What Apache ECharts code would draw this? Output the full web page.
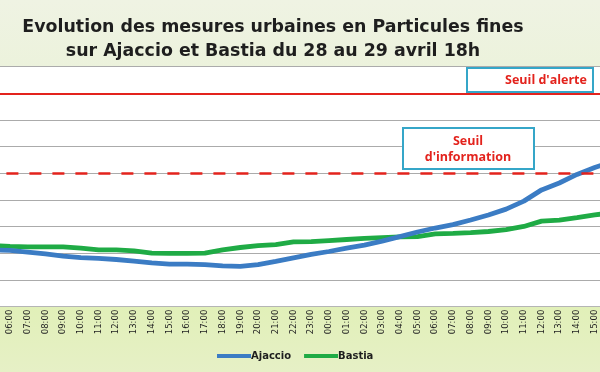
<!DOCTYPE html>
<html>
<head>
<meta charset="utf-8">
<script src="https://cdn.jsdelivr.net/npm/echarts@6/dist/echarts.min.js"></script>
<style>html,body{margin:0;padding:0;}#c{width:600px;height:372px;}</style>
</head>
<body>
<div id="c"></div>
<script>
// Hours (first and last are just outside the visible crop of the original picture)
const categories = ['05:00','06:00','07:00','08:00','09:00','10:00','11:00','12:00','13:00','14:00','15:00','16:00','17:00','18:00','19:00','20:00','21:00','22:00','23:00','00:00','01:00','02:00','03:00','04:00','05:00','06:00','07:00','08:00','09:00','10:00','11:00','12:00','13:00','14:00','15:00','16:00'];
const ajaccio = [21.3,21.1,20.5,19.8,19.0,18.4,18.1,17.7,17.1,16.4,16.0,16.0,15.8,15.3,15.1,15.8,17.0,18.3,19.6,20.7,22.0,23.1,24.6,26.3,28.0,29.5,30.8,32.5,34.4,36.6,39.6,43.8,46.4,49.6,52.2,54.5];
const bastia  = [23.0,22.6,22.4,22.4,22.4,22.0,21.3,21.3,20.9,20.1,20.0,20.0,20.1,21.3,22.2,22.9,23.3,24.3,24.4,24.8,25.2,25.6,25.9,26.2,26.3,27.3,27.5,27.8,28.2,28.9,30.1,32.1,32.5,33.4,34.4,35.3];
const seriesNames = ['Ajaccio','Bastia'];
const seuilAlerte = 80;
const seuilInformation = 50;
const yMin = 0, yMax = 90, yStep = 10;
const titleLines = ['Evolution des mesures urbaines en Particules fines','sur Ajaccio et Bastia du 28 au 29 avril 18h'];
const labelAlerte = "Seuil d'alerte";
const labelInfo = ['Seuil',"d'information"];

const chart = echarts.init(document.getElementById('c'), null, {renderer:'canvas', devicePixelRatio:1});
const red = '#e3231d';
const teal = '#35a6c8';
chart.setOption({
  animation: false,
  backgroundColor: {type:'linear', x:0, y:0, x2:0, y2:1, colorStops:[
    {offset:0, color:'#eff3e3'},{offset:0.18, color:'#ecf2dc'},{offset:0.82, color:'#e1f0b8'},{offset:1, color:'#e6f0c6'}]},
  title: {
    text: titleLines.join('\n'), left: 268, top: 10, textAlign: 'center',
    textStyle: {fontFamily:'DejaVu Sans', fontWeight:'bold', fontSize:17.4, color:'#1e1e1e', lineHeight:24}
  },
  legend: {
    data: seriesNames, left: 212, top: 346, icon: 'rect', itemWidth: 34, itemHeight: 4, itemGap: 13,
    textStyle: {fontFamily:'DejaVu Sans', fontWeight:'bold', fontSize:10, color:'#1e1e1e', padding:[0,0,0,-5]}
  },
  grid: {left:-16.6, right:-21.3, top:66.7, bottom:65.3, containLabel:false, outerBoundsMode:'none',
         show:true, backgroundColor:'#ffffff', borderWidth:0},
  xAxis: {
    type:'category', data: categories, boundaryGap: true,
    axisLine: {show:true, lineStyle:{color:'#b5b5b5', width:1}},
    axisTick: {show:false},
    axisLabel: {rotate:90, margin:3, interval:0, fontFamily:'DejaVu Sans', fontSize:8.5, color:'#222'}
  },
  yAxis: {
    type:'value', min:yMin, max:yMax, interval:yStep,
    axisLabel:{show:false}, axisLine:{show:false}, axisTick:{show:false},
    splitLine:{show:true, lineStyle:{color:'#ababab', width:1.2}}
  },
  series: [
    {name:'seuils', type:'line', data:[], z:1, silent:true,
     markLine:{silent:true, symbol:['none','none'], label:{show:false}, animation:false,
       data:[
         {yAxis: seuilAlerte, lineStyle:{color:red, width:2, type:'solid'}},
         {yAxis: seuilInformation, lineStyle:{color:red, width:2.5, type:[12,11]}}
       ]}},
    {name:seriesNames[0], type:'line', data:ajaccio, showSymbol:false, z:4,
     lineStyle:{color:'#3b7cc4', width:4.8}, itemStyle:{color:'#3b7cc4'}},
    {name:seriesNames[1], type:'line', data:bastia, showSymbol:false, z:3,
     lineStyle:{color:'#1fab45', width:4.8}, itemStyle:{color:'#1fab45'}}
  ],
  graphic: [
    {type:'rect', shape:{x:467, y:68, width:126, height:24}, style:{fill:'#fff', stroke:teal, lineWidth:2}, z:100},
    {type:'text', x:546, y:80, style:{text:labelAlerte, fill:red, font:'bold 12.5px "Open Sans"', textAlign:'center', textVerticalAlign:'middle'}, z:101},
    {type:'rect', shape:{x:403, y:128, width:131, height:41}, style:{fill:'#fff', stroke:teal, lineWidth:2}, z:100},
    {type:'text', x:468, y:141, style:{text:labelInfo[0], fill:red, font:'bold 12.5px "Open Sans"', textAlign:'center', textVerticalAlign:'middle'}, z:101},
    {type:'text', x:468, y:157, style:{text:labelInfo[1], fill:red, font:'bold 12.5px "Open Sans"', textAlign:'center', textVerticalAlign:'middle'}, z:101}
  ]
});
</script>
</body>
</html>
